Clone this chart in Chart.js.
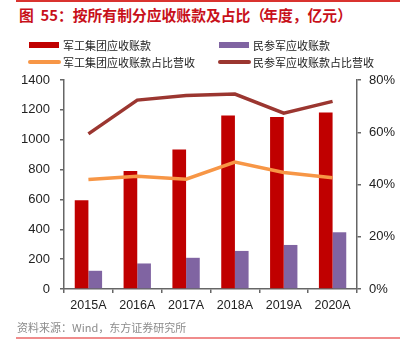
<!DOCTYPE html>
<html><head><meta charset="utf-8">
<script src="https://cdn.jsdelivr.net/npm/chart.js@4/dist/chart.umd.min.js"></script>
<style>
html,body{margin:0;padding:0;background:#fff;width:416px;height:348px;overflow:hidden;}
#wrap{position:relative;width:416px;height:348px;}
canvas{position:absolute;left:0;top:0;}
.topline{position:absolute;left:16px;top:0px;width:384px;height:1.5px;background:#d9332f;}
.botline{position:absolute;left:16px;top:337px;width:384px;height:1.5px;background:#f08c8c;}
.title{position:absolute;left:19px;top:5px;font:bold 14.8px "Noto Sans CJK SC",sans-serif;color:#c8101a;white-space:nowrap;line-height:20px;}
.title .p{display:inline-block;letter-spacing:-2px;}
.src{position:absolute;left:17px;top:319px;font:11px "Noto Sans CJK SC",sans-serif;color:#8c8c8c;white-space:nowrap;line-height:16px;}
.leg{position:absolute;font:11px "Noto Sans CJK SC",sans-serif;color:#222;white-space:nowrap;line-height:14px;}
.sw{position:absolute;}
</style></head>
<body><div id="wrap">
<div class="topline"></div>
<div class="title">图&nbsp;&nbsp;55：按所有制分应收账款及占比<span class="p">（</span>年度，亿元<span class="p">）</span></div>
<canvas id="c" width="416" height="348"></canvas>
<div id="legend"></div>
<div class="src">资料来源：Wind，东方证券研究所</div>
<div class="botline"></div>
</div>
<script>
const categories = ['2015A','2016A','2017A','2018A','2019A','2020A'];
const seriesNames = ['军工集团应收账款','民参军应收账款','军工集团应收账款占比营收','民参军应收账款占比营收'];
const junGongAR = [595, 790, 935, 1162, 1152, 1182];
const minCanAR = [122, 171, 209, 255, 295, 380];
const junGongRatio = [0.419, 0.432, 0.420, 0.486, 0.446, 0.426];
const minCanRatio = [0.594, 0.723, 0.741, 0.746, 0.673, 0.718];
const leftTicks = [0, 200, 400, 600, 800, 1000, 1200, 1400];
const rightTicks = [0, 0.2, 0.4, 0.6, 0.8];

const colors = ['#c00000', '#8064a2', '#f79646', '#9b3630'];

// HTML legend
const legendDiv = document.getElementById('legend');
const legPos = [[28,45,'bar'],[218,45,'bar'],[28,62,'line'],[218,62,'line']];
seriesNames.forEach((n,i)=>{
  const [x,y,t] = legPos[i];
  const sw = document.createElement('div');
  sw.className='sw';
  if(t==='bar'){
    sw.style.cssText=`left:${x+1}px;top:${y-3}px;width:30px;height:6px;background:${colors[i]}`;
  } else {
    sw.style.cssText=`left:${x}px;top:${y-2}px;width:33px;height:3.5px;border-radius:2px;background:${colors[i]}`;
  }
  legendDiv.appendChild(sw);
  const tx = document.createElement('div');
  tx.className='leg';
  tx.style.left=(x+35)+'px';
  tx.style.top=(y-7)+'px';
  tx.textContent=n;
  legendDiv.appendChild(tx);
});

const axisColor = '#666666';
const tickFont = {family:'"Liberation Sans", Arial, sans-serif', size:13};

new Chart(document.getElementById('c'), {
  type:'bar',
  data:{
    labels:categories,
    datasets:[
      {type:'line', label:seriesNames[2], data:junGongRatio, yAxisID:'y1', borderColor:colors[2], backgroundColor:colors[2], borderWidth:3.5, pointRadius:0, tension:0, order:0},
      {type:'line', label:seriesNames[3], data:minCanRatio, yAxisID:'y1', borderColor:colors[3], backgroundColor:colors[3], borderWidth:3.5, pointRadius:0, tension:0, order:0},
      {label:seriesNames[0], data:junGongAR, yAxisID:'y', backgroundColor:colors[0], categoryPercentage:0.56, barPercentage:1, order:1},
      {label:seriesNames[1], data:minCanAR, yAxisID:'y', backgroundColor:colors[1], categoryPercentage:0.56, barPercentage:1, order:1}
    ]
  },
  options:{
    responsive:false,
    animation:false,
    devicePixelRatio:1,
    layout:{padding:{top:80,left:0,right:0,bottom:0}},
    plugins:{legend:{display:false}, tooltip:{enabled:false}, title:{display:false}},
    scales:{
      x:{
        offset:true,
        grid:{display:true, drawOnChartArea:false, drawTicks:true, tickLength:4, color:axisColor, lineWidth:1.5, offset:true},
        border:{display:true, color:axisColor, width:1.5},
        ticks:{color:'#222', font:{family:tickFont.family, size:12.5}, padding:5, maxRotation:0, autoSkip:false},
        afterFit:(s)=>{s.height=59;}
      },
      y:{
        position:'left', min:0, max:1400,
        afterBuildTicks:(s)=>{s.ticks=leftTicks.map(v=>({value:v}));},
        grid:{display:true, drawOnChartArea:false, drawTicks:true, tickLength:4, color:axisColor, lineWidth:1.5},
        border:{display:true, color:axisColor, width:1.5},
        ticks:{color:'#222', font:tickFont, padding:10, callback:(v)=>String(v)},
        afterFit:(s)=>{s.width=64;}
      },
      y1:{
        position:'right', min:0, max:0.8,
        afterBuildTicks:(s)=>{s.ticks=rightTicks.map(v=>({value:v}));},
        grid:{display:true, drawOnChartArea:false, drawTicks:true, tickLength:4, color:axisColor, lineWidth:1.5},
        border:{display:true, color:axisColor, width:1.5},
        ticks:{color:'#222', font:tickFont, padding:8, callback:(v)=>Math.round(v*100)+'%'},
        afterFit:(s)=>{s.width=59;}
      }
    }
  }
});
</script>
</body></html>
